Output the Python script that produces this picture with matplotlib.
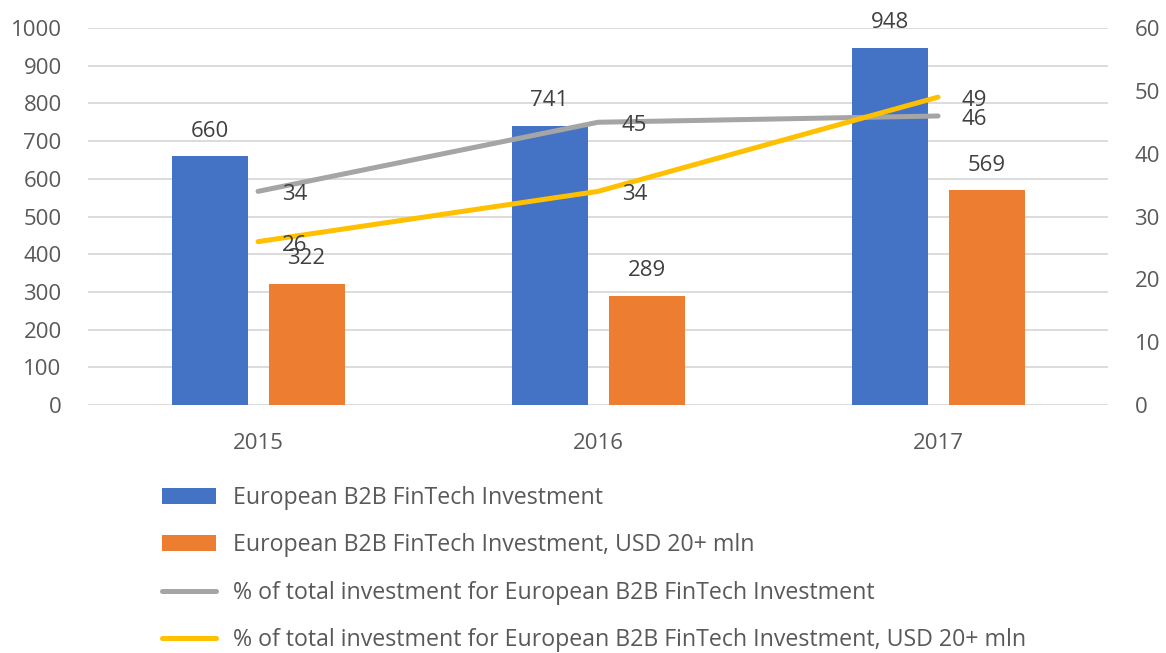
import numpy as np
import matplotlib.pyplot as plt

years = ['2015', '2016', '2017']
invest_all = [660, 741, 948]
invest_20 = [322, 289, 569]
pct_all = [34, 45, 46]
pct_20 = [26, 34, 49]

labels = ['European B2B FinTech Investment',
          'European B2B FinTech Investment, USD 20+ mln',
          '% of total investment for European B2B FinTech Investment',
          '% of total investment for European B2B FinTech Investment, USD 20+ mln']

blue = '#4472C4'
orange = '#ED7D31'
gray = '#A5A5A5'
yellow = '#FFC000'
tick_col = '#595959'
lab_col = '#404040'

plt.rcParams['font.family'] = ['Open Sans', 'DejaVu Sans']
fs = 16

fig = plt.figure(figsize=(11.66, 6.53), dpi=100)
ax = fig.add_axes([0.0755, 0.3798, 0.8748, 0.5773])
ax2 = ax.twinx()

x = np.arange(len(years))
w = 0.2235
off = 0.1426

b1 = ax.bar(x - off, invest_all, w, color=blue, label=labels[0], zorder=2)
b2 = ax.bar(x + off, invest_20, w, color=orange, label=labels[1], zorder=2)
for bars in (b1, b2):
    for r in bars:
        ax.annotate(str(int(r.get_height())), (r.get_x() + r.get_width() / 2, r.get_height()),
                    xytext=(0, 10.5), textcoords='offset points', ha='center', va='bottom',
                    fontsize=fs, color=lab_col)

l1, = ax2.plot(x, pct_all, color=gray, lw=3.6, solid_capstyle='round', label=labels[2])
l2, = ax2.plot(x, pct_20, color=yellow, lw=3.6, solid_capstyle='round', label=labels[3])
for vals in (pct_all, pct_20):
    for xi, v in zip(x, vals):
        ax2.annotate(str(v), (xi, v), xytext=(17, -2.5), textcoords='offset points',
                     ha='left', va='center', fontsize=fs, color=lab_col)

ax.set_xlim(-0.5, 2.5)
ax.set_ylim(0, 1000)
ax2.set_ylim(0, 60)
ax.set_yticks(np.arange(0, 1001, 100))
ax2.set_yticks(np.arange(0, 61, 10))
ax.set_xticks(x)
ax.set_xticklabels(years)

ax.grid(axis='y', color='#D9D9D9', lw=1.3, zorder=0)
ax.set_axisbelow(True)
for a in (ax, ax2):
    for s in a.spines.values():
        s.set_visible(False)
ax.tick_params(axis='both', length=0, labelsize=fs, labelcolor=tick_col)
ax.tick_params(axis='y', pad=19)
ax.tick_params(axis='x', pad=20)
ax2.tick_params(axis='y', length=0, labelsize=fs, labelcolor=tick_col, pad=19)

ax.set_zorder(ax2.get_zorder() - 1)
ax.patch.set_visible(False)
ax2.set_zorder(1)

fig.legend(handles=[b1, b2, l1, l2], labels=labels, loc='upper left',
           bbox_to_anchor=(0.121, 0.2875), frameon=False, fontsize=16.7,
           labelcolor=tick_col, handlelength=2.33, handleheight=0.67,
           handletextpad=0.73, labelspacing=1.0)

fig.savefig('out.png', dpi=100)
